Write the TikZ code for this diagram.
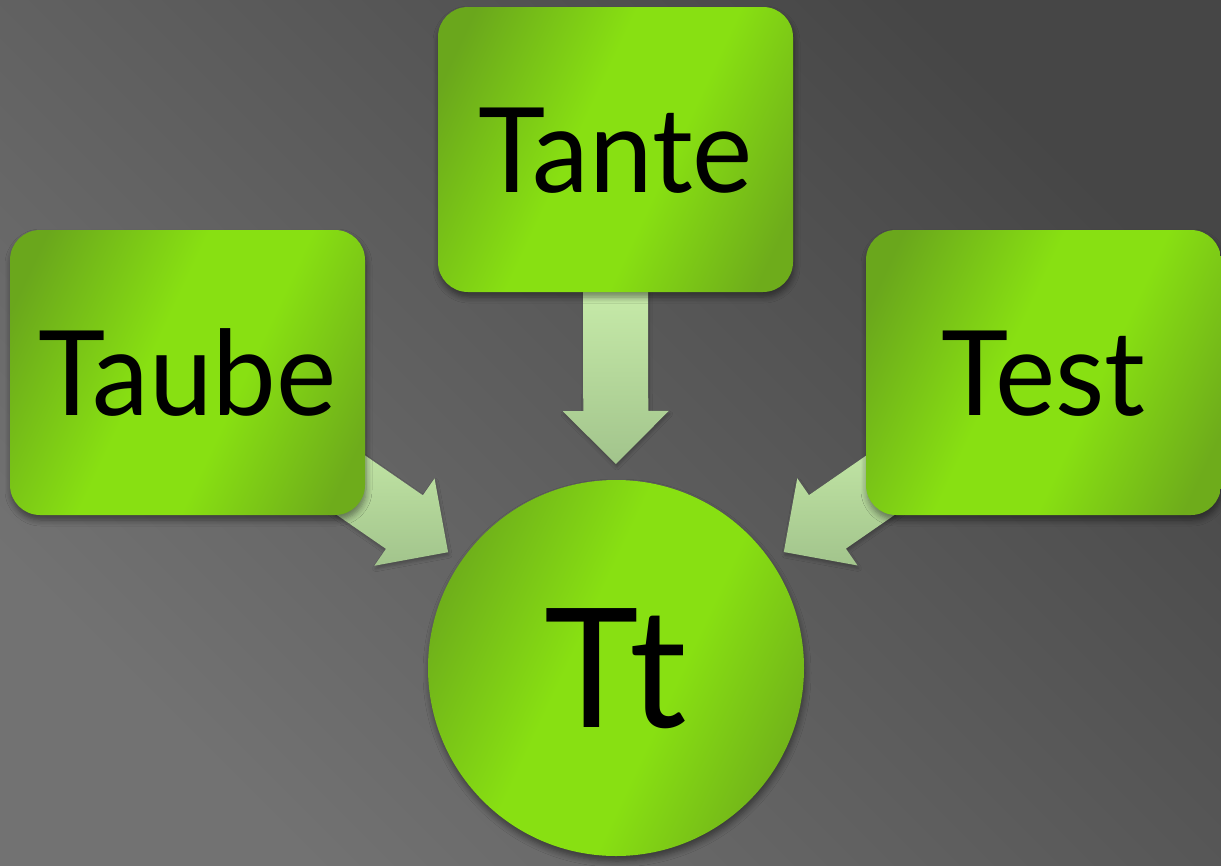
\documentclass[tikz,border=0pt]{standalone}
\usepackage{fontspec}
\setmainfont[FakeStretch=0.965]{Lato}
\usetikzlibrary{calc,shadows.blur}
\definecolor{bglight}{HTML}{727272}
\definecolor{bgdark}{HTML}{464646}
\definecolor{gbright}{HTML}{88E012}
\definecolor{gdark}{HTML}{6AA71C}
\definecolor{gdark2}{HTML}{6EAC1B}
\definecolor{alight}{HTML}{C7EBA9}
\definecolor{adark}{HTML}{A2C48C}
\pgfdeclarehorizontalshading{greenshade}{100bp}{color(0bp)=(gdark); color(22bp)=(gdark); color(44bp)=(gbright); color(58bp)=(gbright); color(78bp)=(gdark2); color(100bp)=(gdark2)}
\tikzset{
  greenbox/.style={rounded corners=30pt, minimum width=355pt, minimum height=285pt,
    shading=greenshade, shading angle=-25,
    inner sep=0pt, text depth=0pt, text height=85pt,
    font=\fontsize{118}{120}\selectfont,
    blur shadow={shadow xshift=1pt, shadow yshift=-5pt, shadow blur steps=6, shadow opacity=45, shadow blur radius=6pt}},
  greencircle/.style={circle, minimum size=376pt, inner sep=0pt,
    shading=greenshade, shading angle=-25,
    text depth=0pt, text height=118pt,
    font=\fontsize{166}{170}\selectfont,
    blur shadow={shadow xshift=1pt, shadow yshift=-5pt, shadow blur steps=6, shadow opacity=45, shadow blur radius=6pt}},
  arrowfill/.style={top color=alight, bottom color=adark,
    blur shadow={shadow xshift=1pt, shadow yshift=-3pt, shadow blur steps=4, shadow opacity=25, shadow blur radius=3pt}}
}
\newcommand\myblockarrow[2]{%
  \coordinate (#2t) at ($(tt.center)!204pt!(#1.center)$);
  \coordinate (#2h) at ($(#2t)!53pt!(#1.center)$);
  \coordinate (#2b) at ($(#2t)!175pt!(#1.center)$);
  \path[arrowfill] (#2t) -- ($(#2h)!53pt!90:(#2t)$) -- ($(#2h)!32.5pt!90:(#2t)$)
    -- ($(#2b)!32.5pt!90:(#2t)$) -- ($(#2b)!32.5pt!-90:(#2t)$)
    -- ($(#2h)!32.5pt!-90:(#2t)$) -- ($(#2h)!53pt!-90:(#2t)$) -- cycle;
}
\begin{document}
\begin{tikzpicture}[x=1pt,y=-1pt]
  \useasboundingbox (0,0) rectangle (1221,865);
  \fill[top color=bgdark, bottom color=bglight, shading angle=-45] (0,0) rectangle (1221,865);
  \coordinate (taube) at (187.5,372.5);
  \coordinate (tante) at (615.5,149.5);
  \coordinate (test) at (1043.5,372.5);
  \coordinate (tt) at (616,668);
  \myblockarrow{taube}{al}
  \myblockarrow{tante}{am}
  \myblockarrow{test}{ar}
  \node[greenbox] (taubebox) at (taube) {Taube};
  \node[greenbox] (tantebox) at (tante) {Tante};
  \node[greenbox] (testbox) at (test) {Test};
  \node[greencircle] (ttcircle) at (tt) {Tt};
\end{tikzpicture}
\end{document}
